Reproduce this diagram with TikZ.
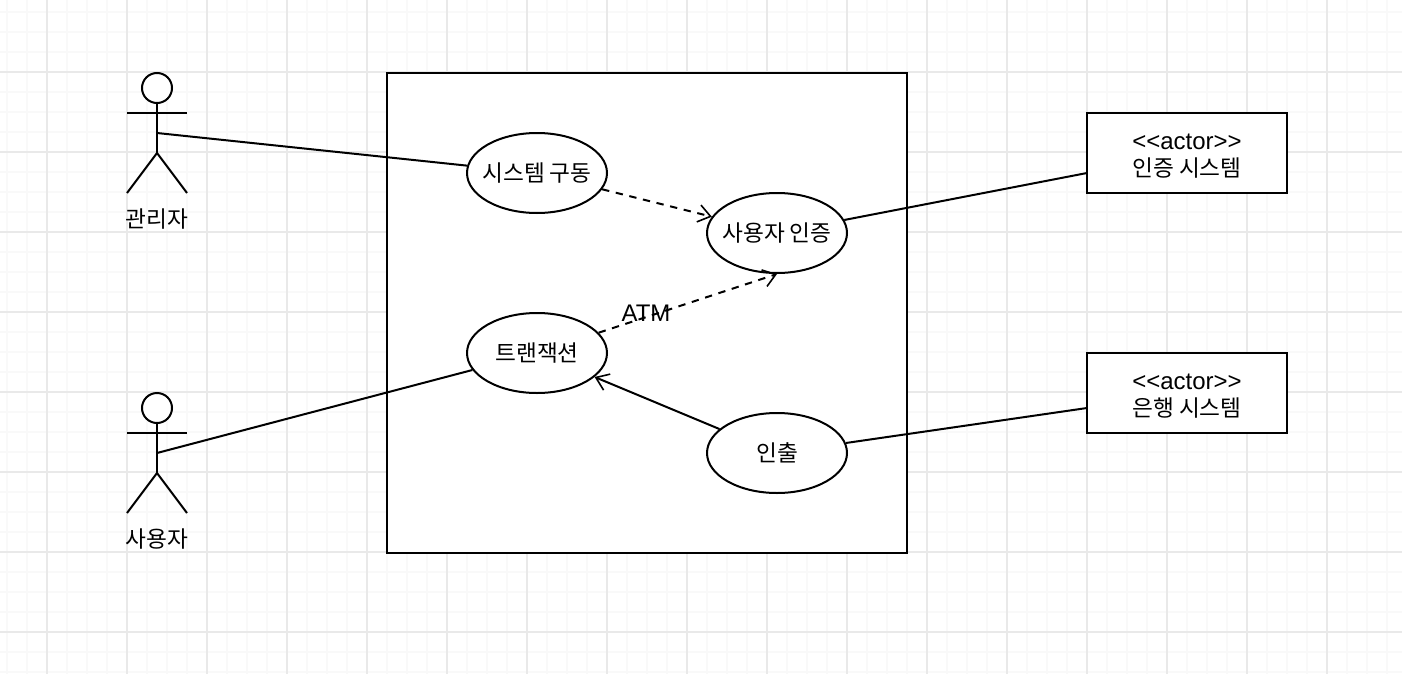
\documentclass[tikz,border=0pt]{standalone}
\usepackage{fontspec}
\setmainfont{Liberation Sans}
\newfontfamily\kr{Noto Sans CJK KR}
\usetikzlibrary{arrows.meta,shapes.geometric}
\definecolor{gridmajor}{HTML}{E9E9E9}
\definecolor{gridminor}{HTML}{F9F9F9}
\newcommand{\boxstrut}{\rule{0pt}{16pt}}
\tikzset{
  usecase/.style={ellipse, draw, fill=white, line width=1.5pt, inner xsep=-8pt, inner ysep=0pt, minimum width=105pt, minimum height=60pt, align=center, font=\kr\fontsize{17}{20}\selectfont},
  extbox/.style={rectangle, draw, fill=white, line width=1.5pt, inner sep=0pt, minimum width=150pt, minimum height=60pt, align=center, font=\fontsize{18}{20}\selectfont},
  actorlabel/.style={font=\kr\fontsize{17}{20}\selectfont},
  assoc/.style={line width=1.5pt},
  depend/.style={line width=1.5pt, dash pattern=on 5.5pt off 5pt, -{Straight Barb[length=9pt,width=13pt,line width=1.2pt]}},
  extend/.style={line width=1.5pt, -{Straight Barb[length=9pt,width=13pt,line width=1.2pt]}},
  stick/.style={line width=1.5pt}
}
\begin{document}
\begin{tikzpicture}[x=0.75pt,y=-0.75pt]
  \useasboundingbox (0,0) rectangle (1402,674);
  % Grid
  \foreach \x in {7,27,67,87,107,147,167,187,227,247,267,307,327,347,387,407,427,467,487,507,547,567,587,627,647,667,707,727,747,787,807,827,867,887,907,947,967,987,1027,1047,1067,1107,1127,1147,1187,1207,1227,1267,1287,1307,1347,1367,1387}
    \draw[gridminor, line width=1.5pt] (\x,0) -- (\x,674);
  \foreach \y in {12,32,52,92,112,132,172,192,212,252,272,292,332,352,372,412,432,452,492,512,532,572,592,612,652,672}
    \draw[gridminor, line width=1.5pt] (0,\y) -- (1402,\y);
  \foreach \x in {47,127,...,1367}
    \draw[gridmajor, line width=1.2pt] (\x,0) -- (\x,674);
  \foreach \y in {72,152,...,640}
    \draw[gridmajor, line width=1.2pt] (0,\y) -- (1402,\y);
  % System
  \node[rectangle, draw, fill=white, line width=1.5pt, inner sep=0pt, minimum width=390pt, minimum height=360pt] (system) at (647,313) {};
  % Use cases
  \node[usecase] (start) at (537,173) {시스템 구동};
  \node[usecase] (auth) at (777,233) {사용자 인증};
  \node[usecase] (trans) at (537,353) {트랜잭션};
  \node[usecase] (withdraw) at (777,453) {인출};
  % External systems
  \node[extbox] (authsys) at (1187,153) {\boxstrut{<}{<}actor{>}{>}\\{\kr\fontsize{17}{20}\selectfont 인증 시스템}};
  \node[extbox] (banksys) at (1187,393) {\boxstrut{<}{<}actor{>}{>}\\{\kr\fontsize{17}{20}\selectfont 은행 시스템}};
  \coordinate (authport) at (1087,173);
  \coordinate (bankport) at (1087,408);
  % Actors
  \foreach \name/\yy/\txt in {admin/0/관리자,user/320/사용자}{
    \node[circle, draw, fill=white, line width=1.5pt, inner sep=0pt, minimum size=22.5pt] (\name head) at (157,88+\yy) {};
    \coordinate (\name hip) at (157,153+\yy);
    \coordinate (\name port) at (157,133+\yy);
    \draw[stick] (\name head) -- (\name hip);
    \draw[stick] (127,113+\yy) -- (187,113+\yy);
    \draw[stick] (127,193+\yy) -- (\name hip) -- (187,193+\yy);
    \node[actorlabel] (\name label) at (157,219+\yy) {\txt};
  }
  % Edges
  \draw[assoc] (adminport) -- (start);
  \draw[assoc] (userport) -- (trans);
  \draw[assoc] (auth) -- (authport);
  \draw[assoc] (withdraw) -- (bankport);
  \draw[depend] (start) -- (auth);
  \draw[depend] (trans) -- (auth.south);
  \draw[extend] (withdraw) -- (trans);
  \node[font=\fontsize{18}{20}\selectfont] (atm) at (646,313) {ATM};
\end{tikzpicture}
\end{document}
